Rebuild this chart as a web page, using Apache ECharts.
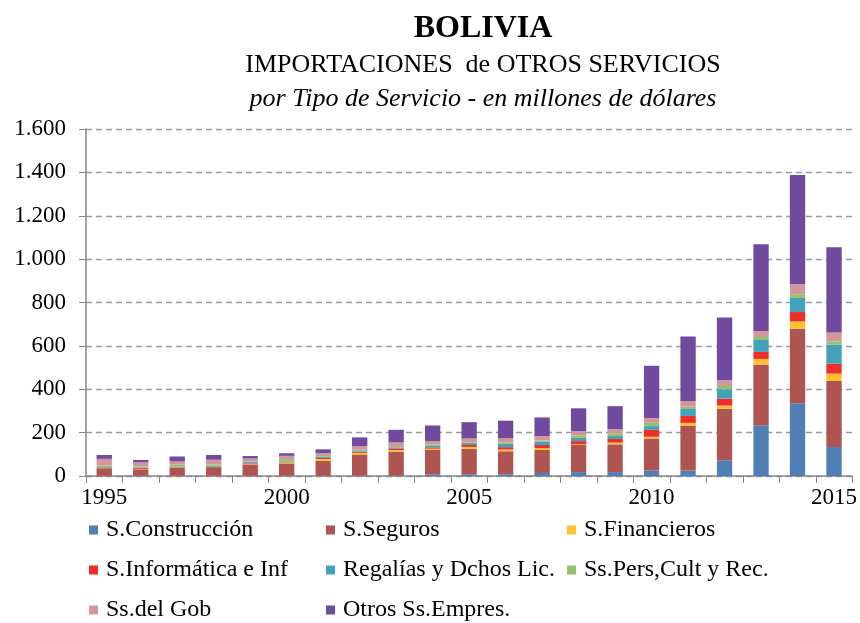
<!DOCTYPE html>
<html>
<head>
<meta charset="utf-8">
<script src="https://cdn.jsdelivr.net/npm/echarts@6/dist/echarts.min.js"></script>
<style>
  html, body { margin: 0; padding: 0; background: #fff; }
  #chart { width: 860px; height: 623px; }
</style>
</head>
<body>
<div id="chart"></div>
<script>
const years = ['1995','1996','1997','1998','1999','2000','2001','2002','2003','2004','2005',
  '2006','2007','2008','2009','2010','2011','2012','2013','2014','2015']

const construccion = [1,1,1,1,1,1,1,1,2,8,8,8,14,18,18,25,25,72,234,335,134]
const seguros = [35,29,38,40,51,57,69,98,109,112,117,106,106,125,128,148,208,238,280,344,304]
const financieros = [1,1,1,1,2,4,9,8,8,6,9,8,8,3,8,8,12,15,26,34,34]
const informatica = [2,5,1,1,4,2,4,5,6,6,9,11,15,15,17,32,32,32,32,43,46]
const regalias = [3,3,3,4,6,3,6,6,4,9,9,15,15,15,14,17,32,43,55,65,88]
const persCult = [6,6,8,6,2,11,3,3,4,5,3,6,6,11,11,15,11,15,14,17,15]
const gobierno = [31,18,15,22,15,15,14,17,22,15,18,20,20,20,20,22,26,26,28,46,41]
const otrosEmpres = [18,11,23,22,11,12,17,40,58,72,75,81,86,105,106,241,297,290,400,504,393]

const seriesDefs = [
  { name: 'S.Construcción', data: construccion, color: '#4F7FB5' },
  { name: 'S.Seguros', data: seguros, color: '#AE5552' },
  { name: 'S.Financieros', data: financieros, color: '#FFC12E' },
  { name: 'S.Informática e Inf', data: informatica, color: '#EE2E2A' },
  { name: 'Regalías y Dchos Lic.', data: regalias, color: '#43A2BA' },
  { name: 'Ss.Pers,Cult y Rec.', data: persCult, color: '#8DC46C' },
  { name: 'Ss.del Gob', data: gobierno, color: '#D3969A' },
  { name: 'Otros Ss.Empres.', data: otrosEmpres, color: '#6F4A9E' }
]

const serif = '"Liberation Serif", "Times New Roman", serif'

// one vertical legend per column, so the three columns line up like the original
const legendBase = {
  orient: 'vertical',
  top: 518,
  padding: 0,
  itemWidth: 9,
  itemHeight: 9,
  itemGap: 16,
  icon: 'rect',
  selectedMode: false,
  textStyle: { fontFamily: serif, fontSize: 24, lineHeight: 24, color: '#000', padding: [0, 0, 0, 3] }
}

const chart = echarts.init(document.getElementById('chart'))

chart.setOption({
  animation: false,
  backgroundColor: '#fff',
  title: [
    { text: 'BOLIVIA', left: 478, top: 8, textAlign: 'center',
      textStyle: { fontFamily: serif, fontSize: 32, fontWeight: 'bold', color: '#000' } },
    { text: 'IMPORTACIONES  de OTROS SERVICIOS', left: 478, top: 47, textAlign: 'center',
      textStyle: { fontFamily: serif, fontSize: 26, fontWeight: 'normal', color: '#000' } },
    { text: 'por Tipo de Servicio - en millones de dólares', left: 478, top: 81, textAlign: 'center',
      textStyle: { fontFamily: serif, fontSize: 26, fontWeight: 'normal', fontStyle: 'italic', color: '#000' } }
  ],
  legend: [
    Object.assign({}, legendBase, { left: 89, data: ['S.Construcción', 'S.Informática e Inf', 'Ss.del Gob'] }),
    Object.assign({}, legendBase, { left: 326, data: ['S.Seguros', 'Regalías y Dchos Lic.', 'Otros Ss.Empres.'] }),
    Object.assign({}, legendBase, { left: 567, data: ['S.Financieros', 'Ss.Pers,Cult y Rec.'] })
  ],
  grid: { left: 86, right: 7, top: 129, bottom: 147, containLabel: false },
  xAxis: {
    type: 'category',
    data: years,
    axisLine: { lineStyle: { color: '#868686', width: 1.5 } },
    axisTick: { show: true, interval: 0, length: 7, lineStyle: { color: '#868686' } },
    axisLabel: { interval: 4, margin: 10, fontFamily: serif, fontSize: 23, color: '#000' }
  },
  yAxis: {
    type: 'value',
    min: 0,
    max: 1600,
    interval: 200,
    axisLine: { show: true, lineStyle: { color: '#868686', width: 1.5 } },
    axisTick: { show: true, length: 7, lineStyle: { color: '#868686' } },
    axisLabel: {
      margin: 20,
      fontFamily: serif,
      fontSize: 23,
      color: '#000',
      formatter: v => v >= 1000 ? Math.floor(v / 1000) + '.' + String(v % 1000).padStart(3, '0') : String(v)
    },
    splitLine: { show: true, lineStyle: { color: '#9a9a9a', type: [6, 4], width: 1.3 } }
  },
  series: seriesDefs.map(s => ({
    name: s.name,
    type: 'bar',
    stack: 'total',
    data: s.data,
    barWidth: '42%',
    itemStyle: { color: s.color },
    emphasis: { disabled: true }
  }))
})
</script>
</body>
</html>
